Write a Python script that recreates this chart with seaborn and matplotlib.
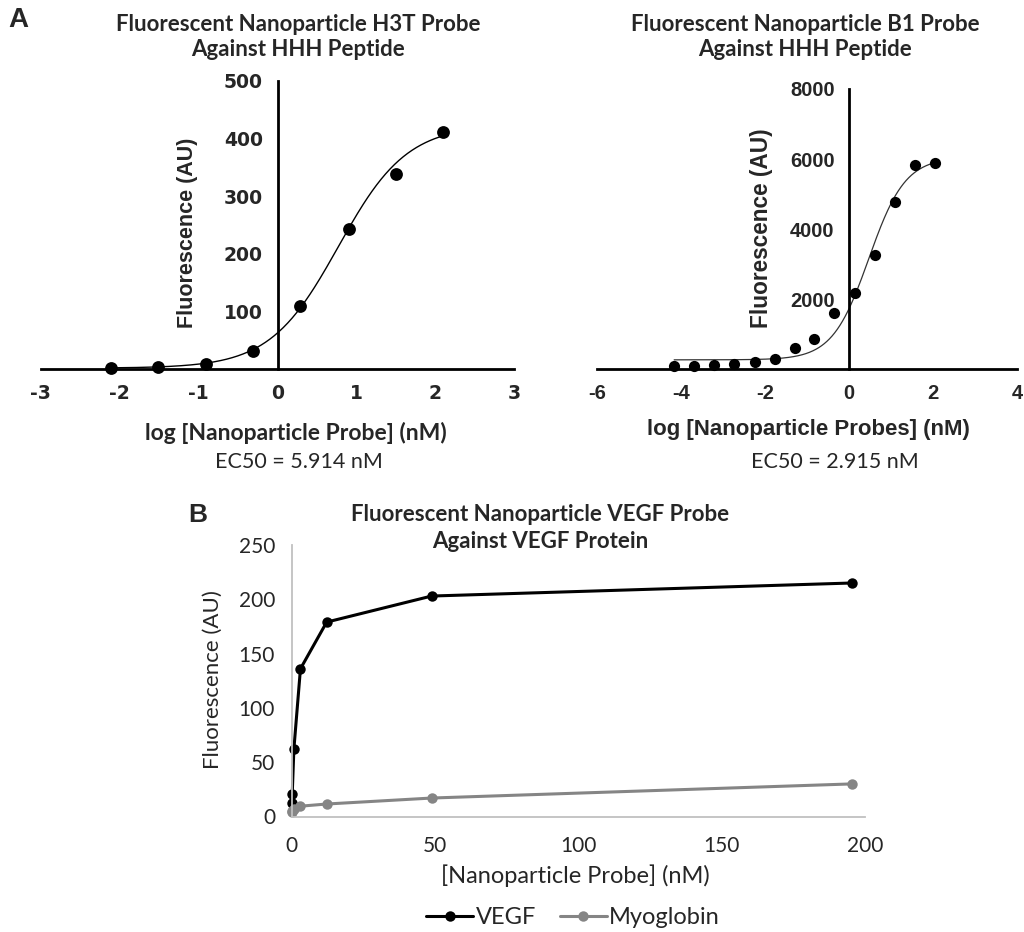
import numpy as np
import pandas as pd
import seaborn as sns
import matplotlib.pyplot as plt
from matplotlib.lines import Line2D

W, H = 1024, 932
ARIAL = ['Liberation Sans', 'DejaVu Sans']
WIDE = ['DejaVu Sans']
CALIBRI = ['Lato', 'DejaVu Sans']

# Panel A (left): H3T probe vs HHH peptide
H3T_LOG_CONC = [-2.11, -1.51, -0.91, -0.31, 0.29, 0.90, 1.50, 2.10]
H3T_FLUOR = [2, 4, 9, 32, 110, 244, 338, 411]
# 4PL fit: bottom, top, EC50 (nM), hill slope
H3T_FIT = (2, 424, 5.914, 1.0)

# Panel A (right): B1 probe vs HHH peptide
B1_LOG_CONC = [-4.17, -3.69, -3.21, -2.74, -2.25, -1.77, -1.30,
               -0.83, -0.36, 0.14, 0.62, 1.09, 1.56, 2.04]
B1_FLUOR = [94, 103, 110, 151, 217, 300, 600, 866, 1600, 2171,
            3266, 4780, 5817, 5874]
B1_FIT = (270, 6050, 2.915, 1.0)

# Panel B: VEGF probe vs VEGF protein / myoglobin
PROBE_NM = [195.3, 48.8, 12.2, 3.05, 0.76, 0.19, 0.05]
VEGF_FLUOR = [215, 203, 179, 136, 62, 21, 12]
MYO_FLUOR = [30, 17, 11.5, 9.5, 7, 5, 4]
SERIES_COLORS = {'VEGF': '#000000', 'Myoglobin': '#858585'}


def fx(x):
    return x / W


def fy(y):
    return 1 - y / H


def four_pl(x, bottom, top, ec50, hill):
    return bottom + (top - bottom) / (1 + 10 ** ((np.log10(ec50) - x) * hill))


def prism_axes(ax, xticks, yticks, tick_font, tick_size, ylabel_size, ylabel_xy):
    sns.despine(ax=ax)
    ax.spines['left'].set_position(('data', 0))
    for side in ('left', 'bottom'):
        ax.spines[side].set_linewidth(2.0)
        ax.spines[side].set_color('black')
    ax.set_xticks(xticks, [str(t) for t in xticks], fontfamily=tick_font,
                  fontweight='bold', fontsize=tick_size)
    ax.set_yticks(yticks, [str(t) for t in yticks], fontfamily=tick_font,
                  fontweight='bold', fontsize=tick_size)
    ax.tick_params(axis='both', length=7.5, width=2.0, color='black', pad=3)
    ax.set_ylabel('Fluorescence (AU)', fontfamily=ARIAL, fontweight='bold',
                  fontsize=ylabel_size)
    ax.yaxis.set_label_coords(*ylabel_xy)
    ax.set_xlabel('')


sns.set_theme(style='white')
plt.rcParams['font.family'] = ARIAL

fig = plt.figure(figsize=(W / 100, H / 100), dpi=100)

# ---- A left ----
ax1 = fig.add_axes([fx(40.7), fy(369.3), fx(514.3 - 40.7), (369.3 - 81) / H])
xs = np.linspace(H3T_LOG_CONC[0], H3T_LOG_CONC[-1], 300)
sns.lineplot(x=xs, y=four_pl(xs, *H3T_FIT), ax=ax1, color='black', linewidth=1.0)
sns.scatterplot(x=H3T_LOG_CONC, y=H3T_FLUOR, ax=ax1, color='black', s=85,
                linewidth=0, clip_on=False, zorder=3)
ax1.set_xlim(-3, 3)
ax1.set_ylim(0, 500)
prism_axes(ax1, [-3, -2, -1, 0, 1, 2, 3], [100, 200, 300, 400, 500],
           WIDE, 13.5, 15.5, ((198 - 40.7) / 473.6, 0.473))

fig.text(fx(298), fy(37), 'Fluorescent Nanoparticle H3T Probe\nAgainst HHH Peptide',
         ha='center', va='center', fontfamily=CALIBRI, fontweight='bold',
         fontsize=16, linespacing=1.2)
fig.text(fx(296), fy(433), 'log [Nanoparticle Probe] (nM)', ha='center', va='center',
         fontfamily=CALIBRI, fontweight='bold', fontsize=16.5)
fig.text(fx(299), fy(462), 'EC50 = 5.914 nM', ha='center', va='center',
         fontfamily=CALIBRI, fontsize=15.5)

# ---- A right ----
ax2 = fig.add_axes([fx(597.3), fy(369.3), fx(1017.3 - 597.3), (369.3 - 89) / H])
xs = np.linspace(B1_LOG_CONC[0], B1_LOG_CONC[-1], 300)
sns.lineplot(x=xs, y=four_pl(xs, *B1_FIT), ax=ax2, color='#333333', linewidth=0.9)
sns.scatterplot(x=B1_LOG_CONC, y=B1_FLUOR, ax=ax2, color='black', s=65,
                linewidth=0, clip_on=False, zorder=3)
ax2.set_xlim(-6, 4)
ax2.set_ylim(0, 8000)
prism_axes(ax2, [-6, -4, -2, 0, 2, 4], [2000, 4000, 6000, 8000],
           ARIAL, 14.5, 16.3, ((773 - 597.3) / 420, 0.503))

fig.text(fx(805), fy(37), 'Fluorescent Nanoparticle B1 Probe\nAgainst HHH Peptide',
         ha='center', va='center', fontfamily=CALIBRI, fontweight='bold',
         fontsize=16, linespacing=1.2)
fig.text(fx(808), fy(430), 'log [Nanoparticle Probes] (nM)', ha='center', va='center',
         fontfamily=ARIAL, fontweight='bold', fontsize=16)
fig.text(fx(835), fy(462), 'EC50 = 2.915 nM', ha='center', va='center',
         fontfamily=CALIBRI, fontsize=15.5)

fig.text(fx(8), fy(20), 'A', ha='left', va='center', fontfamily=ARIAL,
         fontweight='bold', fontsize=20)

# ---- B ----
df = pd.DataFrame({
    'conc': PROBE_NM + PROBE_NM,
    'fluor': VEGF_FLUOR + MYO_FLUOR,
    'target': ['VEGF'] * len(PROBE_NM) + ['Myoglobin'] * len(PROBE_NM),
})
ax3 = fig.add_axes([fx(291.7), fy(816.5), fx(865 - 291.7), (816.5 - 545) / H])
sns.lineplot(data=df, x='conc', y='fluor', hue='target', palette=SERIES_COLORS,
             marker='o', markersize=7.5, markeredgewidth=0, linewidth=2.2,
             clip_on=False, legend=False, ax=ax3)
ax3.set_xlim(0, 200)
ax3.set_ylim(0, 250)
sns.despine(ax=ax3)
for side in ('left', 'bottom'):
    ax3.spines[side].set_color('#c0c0c0')
    ax3.spines[side].set_linewidth(1.3)
ax3.set_xticks([0, 50, 100, 150, 200], ['0', '50', '100', '150', '200'],
               fontfamily=CALIBRI, fontsize=15)
ax3.set_yticks([0, 50, 100, 150, 200, 250], ['0', '50', '100', '150', '200', '250'],
               fontfamily=CALIBRI, fontsize=15)
ax3.tick_params(axis='both', length=0)
ax3.tick_params(axis='x', pad=14)
ax3.tick_params(axis='y', pad=12)
ax3.set_xlabel('')
ax3.set_ylabel('')
fig.text(fx(213), fy(680), 'Fluorescence (AU)', rotation=90, ha='center', va='center',
         fontfamily=CALIBRI, fontsize=16)
fig.text(fx(575), fy(876), '[Nanoparticle Probe] (nM)', ha='center', va='center',
         fontfamily=CALIBRI, fontsize=17)
fig.text(fx(540), fy(528), 'Fluorescent Nanoparticle VEGF Probe\nAgainst VEGF Protein',
         ha='center', va='center', fontfamily=CALIBRI, fontweight='bold',
         fontsize=16, linespacing=1.3)
fig.text(fx(188), fy(515), 'B', ha='left', va='center', fontfamily=ARIAL,
         fontweight='bold', fontsize=19)

handles = [Line2D([], [], color=c, marker='o', markersize=7.5, markeredgewidth=0,
                  linewidth=2.2) for c in SERIES_COLORS.values()]
fig.legend(handles, list(SERIES_COLORS.keys()), loc='center',
           bbox_to_anchor=(fx(573), fy(918)), ncol=2, frameon=False,
           prop={'family': CALIBRI, 'size': 17}, handlelength=2.0,
           handletextpad=0.1, columnspacing=1.0)

fig.savefig('out.png', dpi=100)
